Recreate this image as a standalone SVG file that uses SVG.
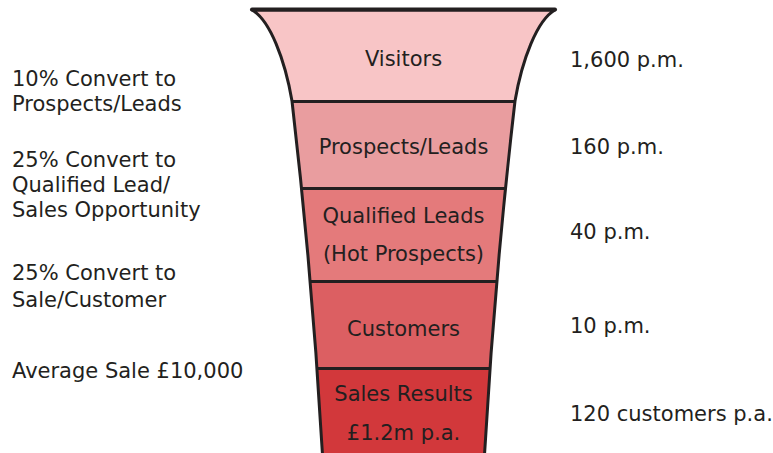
<svg xmlns="http://www.w3.org/2000/svg" width="773" height="453" viewBox="0 0 773 453">
  <style>
    .lbl { font-family: "DejaVu Sans", "Open Sans", "Liberation Sans", sans-serif; font-size: 21px; fill: #231F20; }
    .mid { text-anchor: middle; }
    .div { stroke: #231F20; stroke-width: 3; fill: none; }
  </style>
  <defs>
    <clipPath id="funnelClip">
      <path d="M252,10 L555,10 C537,20 522,60 515,101 Q494.5,277 484.5,455 L322.5,455 Q312.5,277 292,101 C285,60 270,20 252,10 Z"/>
    </clipPath>
  </defs>
  <rect width="773" height="453" fill="#ffffff"/>
  <g id="funnel-bands" clip-path="url(#funnelClip)">
    <g id="visitors"><rect x="240" y="0" width="330" height="102" fill="#F8C5C6"/></g>
    <g id="prospects"><rect x="240" y="101.5" width="330" height="87" fill="#E99D9F"/></g>
    <g id="qualified"><rect x="240" y="188.5" width="330" height="93" fill="#E47A7B"/></g>
    <g id="customers"><rect x="240" y="281.5" width="330" height="87" fill="#DC5F62"/></g>
    <g id="sales"><rect x="240" y="368.5" width="330" height="90" fill="#D2383B"/></g>
    <line class="div" x1="240" y1="101.5" x2="570" y2="101.5"/>
    <line class="div" x1="240" y1="188.5" x2="570" y2="188.5"/>
    <line class="div" x1="240" y1="281.5" x2="570" y2="281.5"/>
    <line class="div" x1="240" y1="368.5" x2="570" y2="368.5"/>
  </g>
  <path d="M252,10 L555,10 C537,20 522,60 515,101 Q494.5,277 484.5,455 M322.5,455 Q312.5,277 292,101 C285,60 270,20 252,10" fill="none" stroke="#231F20" stroke-width="3" stroke-linejoin="round" stroke-linecap="round"/>
  <line x1="252" y1="9.5" x2="555" y2="9.5" stroke="#231F20" stroke-width="4" stroke-linecap="round"/>
  <g id="connectors"/>
  <g id="funnel-labels">
    <text class="lbl mid" x="403.5" y="65.5">Visitors</text>
    <text class="lbl mid" x="403.5" y="154">Prospects/Leads</text>
    <text class="lbl mid" x="403.5" y="223.3">Qualified Leads</text>
    <text class="lbl mid" x="403.5" y="261">(Hot Prospects)</text>
    <text class="lbl mid" x="403.5" y="335.7">Customers</text>
    <text class="lbl mid" x="403.5" y="401">Sales Results</text>
    <text class="lbl mid" x="403.5" y="439.5">£1.2m p.a.</text>
  </g>
  <g id="left-notes">
    <text class="lbl" x="12" y="85.7">10% Convert to</text>
    <text class="lbl" x="12" y="110.7">Prospects/Leads</text>
    <text class="lbl" x="12" y="166.7">25% Convert to</text>
    <text class="lbl" x="12" y="191.7">Qualified Lead/</text>
    <text class="lbl" x="12" y="216.7">Sales Opportunity</text>
    <text class="lbl" x="12" y="280">25% Convert to</text>
    <text class="lbl" x="12" y="306.7">Sale/Customer</text>
    <text class="lbl" x="12" y="378.3">Average Sale £10,000</text>
  </g>
  <g id="right-values">
    <text class="lbl" x="570" y="66.7">1,600 p.m.</text>
    <text class="lbl" x="570" y="154">160 p.m.</text>
    <text class="lbl" x="570" y="239.3">40 p.m.</text>
    <text class="lbl" x="570" y="332.7">10 p.m.</text>
    <text class="lbl" x="570" y="420.7">120 customers p.a.</text>
  </g>
</svg>
